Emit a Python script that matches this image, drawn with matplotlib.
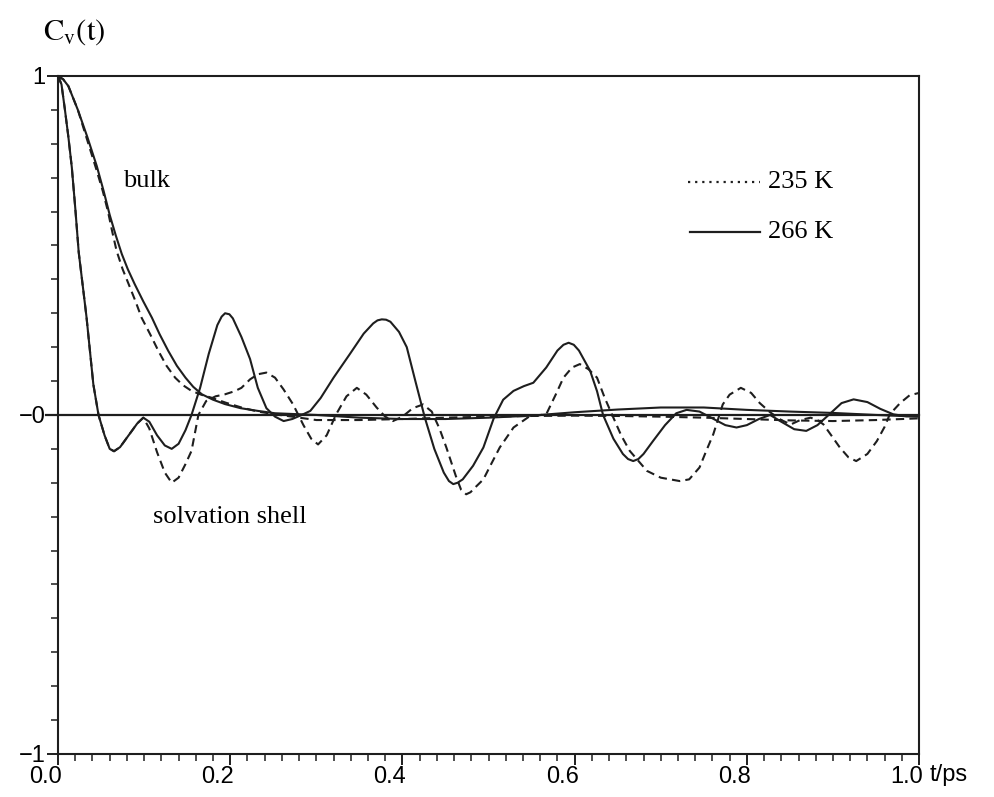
import numpy as np
import matplotlib
matplotlib.use("Agg")
import matplotlib.pyplot as plt
import matplotlib.transforms as mtransforms
from matplotlib.ticker import MultipleLocator

# velocity autocorrelation
# solvation shell, 266 K (solid)
t_shell_266 = [0.000, 0.004, 0.008, 0.012, 0.016, 0.020, 0.024, 0.033, 0.041, 0.047,
               0.054, 0.060, 0.065, 0.072, 0.082, 0.092, 0.099, 0.106, 0.115, 0.124,
               0.132, 0.140, 0.148, 0.155, 0.165, 0.175, 0.185, 0.190, 0.194, 0.199,
               0.203, 0.213, 0.223, 0.232, 0.242, 0.252, 0.262, 0.272, 0.283, 0.293,
               0.305, 0.320, 0.339, 0.355, 0.366, 0.371, 0.376, 0.381, 0.386, 0.396,
               0.405, 0.415, 0.426, 0.437, 0.448, 0.454, 0.459, 0.464, 0.470, 0.482,
               0.494, 0.506, 0.517, 0.529, 0.541, 0.552, 0.567, 0.580, 0.587, 0.593,
               0.599, 0.605, 0.618, 0.626, 0.633, 0.645, 0.656, 0.662, 0.668, 0.674,
               0.680, 0.691, 0.705, 0.718, 0.730, 0.745, 0.760, 0.775, 0.788, 0.800,
               0.814, 0.827, 0.840, 0.855, 0.869, 0.882, 0.895, 0.910, 0.924, 0.940,
               0.955, 0.970, 0.985, 1.000]
c_shell_266 = [1.00, 0.975, 0.90, 0.82, 0.73, 0.61, 0.48, 0.29, 0.09, 0.00,
               -0.06, -0.10, -0.107, -0.095, -0.06, -0.025, -0.008, -0.02, -0.06, -0.09,
               -0.10, -0.085, -0.045, 0.00, 0.08, 0.18, 0.265, 0.29, 0.30, 0.297,
               0.285, 0.23, 0.165, 0.08, 0.02, -0.005, -0.018, -0.012, 0.000, 0.012,
               0.05, 0.11, 0.18, 0.24, 0.27, 0.279, 0.282, 0.281, 0.275, 0.245,
               0.20, 0.10, -0.008, -0.10, -0.17, -0.195, -0.204, -0.2, -0.19, -0.15,
               -0.096, -0.01, 0.045, 0.071, 0.085, 0.095, 0.14, 0.19, 0.207, 0.213,
               0.207, 0.19, 0.13, 0.07, 0.00, -0.07, -0.115, -0.13, -0.136, -0.13,
               -0.115, -0.077, -0.03, 0.005, 0.015, 0.01, -0.01, -0.03, -0.037, -0.03,
               -0.012, 0.00, -0.02, -0.042, -0.047, -0.03, 0.00, 0.035, 0.046, 0.038,
               0.018, 0.002, -0.004, -0.003]

# solvation shell, 235 K (dashed)
t_shell_235 = [0.000, 0.004, 0.008, 0.012, 0.016, 0.020, 0.024, 0.033, 0.041, 0.047,
               0.054, 0.060, 0.065, 0.072, 0.082, 0.092, 0.099, 0.106, 0.115, 0.124,
               0.132, 0.140, 0.148, 0.155, 0.163, 0.172, 0.183, 0.194, 0.205, 0.213,
               0.223, 0.232, 0.242, 0.252, 0.262, 0.273, 0.285, 0.294, 0.302, 0.312,
               0.323, 0.335, 0.347, 0.358, 0.370, 0.380, 0.389, 0.400, 0.412, 0.424,
               0.434, 0.443, 0.451, 0.462, 0.468, 0.474, 0.479, 0.484, 0.494, 0.503,
               0.513, 0.529, 0.547, 0.567, 0.578, 0.587, 0.597, 0.606, 0.616, 0.626,
               0.635, 0.645, 0.654, 0.664, 0.684, 0.700, 0.722, 0.733, 0.745, 0.753,
               0.761, 0.772, 0.780, 0.793, 0.805, 0.815, 0.827, 0.840, 0.851, 0.862,
               0.874, 0.882, 0.889, 0.898, 0.908, 0.918, 0.927, 0.940, 0.951, 0.960,
               0.966, 0.978, 0.989, 1.000]
c_shell_235 = [1.00, 0.975, 0.90, 0.82, 0.73, 0.61, 0.48, 0.29, 0.09, 0.00,
               -0.06, -0.10, -0.107, -0.095, -0.06, -0.025, -0.008, -0.04, -0.11, -0.17,
               -0.20, -0.185, -0.145, -0.106, 0.00, 0.041, 0.055, 0.061, 0.07, 0.08,
               0.105, 0.12, 0.125, 0.11, 0.075, 0.031, -0.03, -0.07, -0.087, -0.06,
               0.002, 0.055, 0.08, 0.06, 0.022, -0.005, -0.018, -0.005, 0.02, 0.031,
               0.01, -0.04, -0.096, -0.18, -0.22, -0.234, -0.228, -0.215, -0.19, -0.145,
               -0.096, -0.037, -0.005, 0.002, 0.06, 0.11, 0.14, 0.15, 0.135, 0.11,
               0.05, -0.008, -0.06, -0.106, -0.165, -0.185, -0.195, -0.19, -0.155, -0.105,
               -0.057, 0.031, 0.06, 0.08, 0.065, 0.035, 0.008, -0.015, -0.028, -0.015,
               -0.008, -0.015, -0.028, -0.06, -0.096, -0.125, -0.136, -0.115, -0.077, -0.035,
               0.002, 0.035, 0.058, 0.065]

# bulk, 266 K (solid)
t_bulk_266 = [0.000, 0.006, 0.012, 0.023, 0.034, 0.045, 0.053, 0.060, 0.067, 0.074,
              0.081, 0.089, 0.099, 0.109, 0.118, 0.128, 0.138, 0.148, 0.157, 0.167,
              0.180, 0.194, 0.212, 0.232, 0.252, 0.30, 0.35, 0.40, 0.45, 0.50,
              0.55, 0.60, 0.65, 0.70, 0.75, 0.80, 0.85, 0.90, 0.95, 1.00]
c_bulk_266 = [1.00, 0.99, 0.97, 0.90, 0.82, 0.734, 0.66, 0.59, 0.53, 0.475,
              0.43, 0.386, 0.335, 0.287, 0.238, 0.189, 0.145, 0.110, 0.083, 0.061,
              0.045, 0.032, 0.02, 0.012, 0.005, 0.0, -0.008, -0.012, -0.012, -0.008,
              -0.002, 0.008, 0.016, 0.022, 0.022, 0.015, 0.01, 0.006, 0.0, -0.005]

# bulk, 235 K (dashed)
t_bulk_235 = [0.000, 0.006, 0.012, 0.023, 0.034, 0.045, 0.052, 0.058, 0.063, 0.068,
              0.075, 0.082, 0.090, 0.097, 0.107, 0.1165, 0.126, 0.136, 0.145, 0.155,
              0.166, 0.178, 0.195, 0.213, 0.232, 0.252, 0.30, 0.35, 0.40, 0.45,
              0.50, 0.55, 0.60, 0.65, 0.70, 0.75, 0.80, 0.85, 0.90, 0.95, 1.00]
c_bulk_235 = [1.00, 0.99, 0.97, 0.90, 0.81, 0.72, 0.66, 0.60, 0.54, 0.484,
              0.43, 0.386, 0.335, 0.287, 0.238, 0.189, 0.145, 0.110, 0.088, 0.071,
              0.06, 0.051, 0.036, 0.022, 0.01, 0.002, -0.015, -0.015, -0.012, -0.008,
              -0.005, -0.003, -0.002, -0.003, -0.005, -0.008, -0.012, -0.016, -0.018, -0.015, -0.01]

ink = '#1e1e1e'
serif = 'Liberation Serif'
sans = 'Liberation Sans'
plt.rcParams['mathtext.fontset'] = 'stix'

fig = plt.figure(figsize=(9.94, 7.97), dpi=100)
ax = fig.add_axes([0.0584, 0.054, 0.8662, 0.8507])

dash = (0, (4, 2.5))
ax.plot(t_bulk_266, c_bulk_266, color=ink, lw=1.5)
ax.plot(t_bulk_235, c_bulk_235, color=ink, lw=1.5, linestyle=dash)
ax.plot(t_shell_266, c_shell_266, color=ink, lw=1.5)
ax.plot(t_shell_235, c_shell_235, color=ink, lw=1.5, linestyle=dash)

# zero line, runs a bit past the y axis like a major tick
ax.axhline(0, color=ink, lw=1.6, xmin=-0.014, xmax=1.0, clip_on=False)

ax.set_xlim(0, 1.0)
ax.set_ylim(-1, 1)
for s in ax.spines.values():
    s.set_linewidth(1.5)
    s.set_color(ink)

ax.xaxis.set_major_locator(MultipleLocator(0.2))
ax.xaxis.set_minor_locator(MultipleLocator(0.02))
ax.yaxis.set_major_locator(MultipleLocator(1))
ax.yaxis.set_minor_locator(MultipleLocator(0.1))
ax.tick_params(which='major', direction='out', length=8, width=1.4, color=ink, pad=1)
ax.tick_params(which='minor', direction='out', length=5, width=1.1, color=ink)
ax.set_xticks([0, 0.2, 0.4, 0.6, 0.8, 1.0])
ax.set_xticklabels(['0.0', '0.2', '0.4', '0.6', '0.8', '1.0'], fontsize=17, family=sans)
ax.set_yticks([-1, 0, 1])
ax.set_yticklabels(['\u22121', '\u22120', '1'], fontsize=17, family=sans)

# the x labels sit a little left of their ticks in the original
shift = mtransforms.ScaledTranslation(-9 / 72, 0, fig.dpi_scale_trans)
for lab in ax.get_xticklabels():
    lab.set_transform(lab.get_transform() + shift)

ax.text(1.012, -0.031, 't/ps', transform=ax.transAxes, fontsize=17, family=sans,
        ha='left', va='center')
fig.text(0.043, 0.96, r'$\mathrm{C_v(t)}$', fontsize=22, ha='left', va='center')

ax.text(0.075, 0.69, 'bulk', fontsize=19, family=serif, ha='left', va='center')
ax.text(0.11, -0.30, 'solvation shell', fontsize=19, family=serif, ha='left', va='center')

# legend
ax.plot([0.732, 0.815], [0.8437, 0.8437], transform=ax.transAxes, color=ink,
        lw=1.6, linestyle=(0, (1, 2.2)))
ax.plot([0.734, 0.815], [0.770, 0.770], transform=ax.transAxes, color=ink, lw=1.6)
ax.text(0.824, 0.8437, '235 K', transform=ax.transAxes, fontsize=19, family=serif,
        ha='left', va='center')
ax.text(0.824, 0.770, '266 K', transform=ax.transAxes, fontsize=19, family=serif,
        ha='left', va='center')

fig.savefig('out.png', dpi=100)
